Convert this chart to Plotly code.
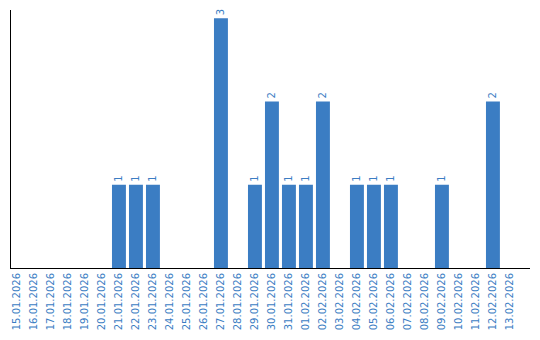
import plotly.graph_objects as go

dates = ["15.01.2026","16.01.2026","17.01.2026","18.01.2026","19.01.2026","20.01.2026",
         "21.01.2026","22.01.2026","23.01.2026","24.01.2026","25.01.2026","26.01.2026",
         "27.01.2026","28.01.2026","29.01.2026","30.01.2026","31.01.2026","01.02.2026",
         "02.02.2026","03.02.2026","04.02.2026","05.02.2026","06.02.2026","07.02.2026",
         "08.02.2026","09.02.2026","10.02.2026","11.02.2026","12.02.2026","13.02.2026"]
counts = [0,0,0,0,0,0,1,1,1,0,0,0,3,0,1,2,1,1,2,0,1,1,1,0,0,1,0,0,2,0]

labels = [str(v) if v > 0 else "" for v in counts]
blue = "#3b7dc3"

fig = go.Figure(go.Bar(
    x=list(range(len(dates))), y=counts, marker_color=blue, marker_line_width=0,
    text=labels, textposition="outside", textangle=-90,
    textfont=dict(family="DejaVu Sans", size=10, color=blue),
    cliponaxis=False, hoverinfo="skip"))

fig.update_layout(
    width=540, height=340, margin=dict(l=11, r=10, t=10, b=70),
    plot_bgcolor="white", paper_bgcolor="white", showlegend=False, bargap=0.18,
    font=dict(family="DejaVu Sans", size=10, color=blue),
)
fig.update_xaxes(
    tickmode="array", tickvals=list(range(len(dates))), ticktext=dates,
    tickangle=-90, range=[-0.35, 30.18], showline=True, linecolor="black",
    linewidth=1, showgrid=False, ticks="", zeroline=False,
    tickfont=dict(family="DejaVu Sans", size=10, color=blue))
fig.update_yaxes(
    range=[0, 3.1], showline=True, linecolor="black", linewidth=1,
    showgrid=False, showticklabels=False, ticks="", zeroline=False)

fig.write_html("out.html")
